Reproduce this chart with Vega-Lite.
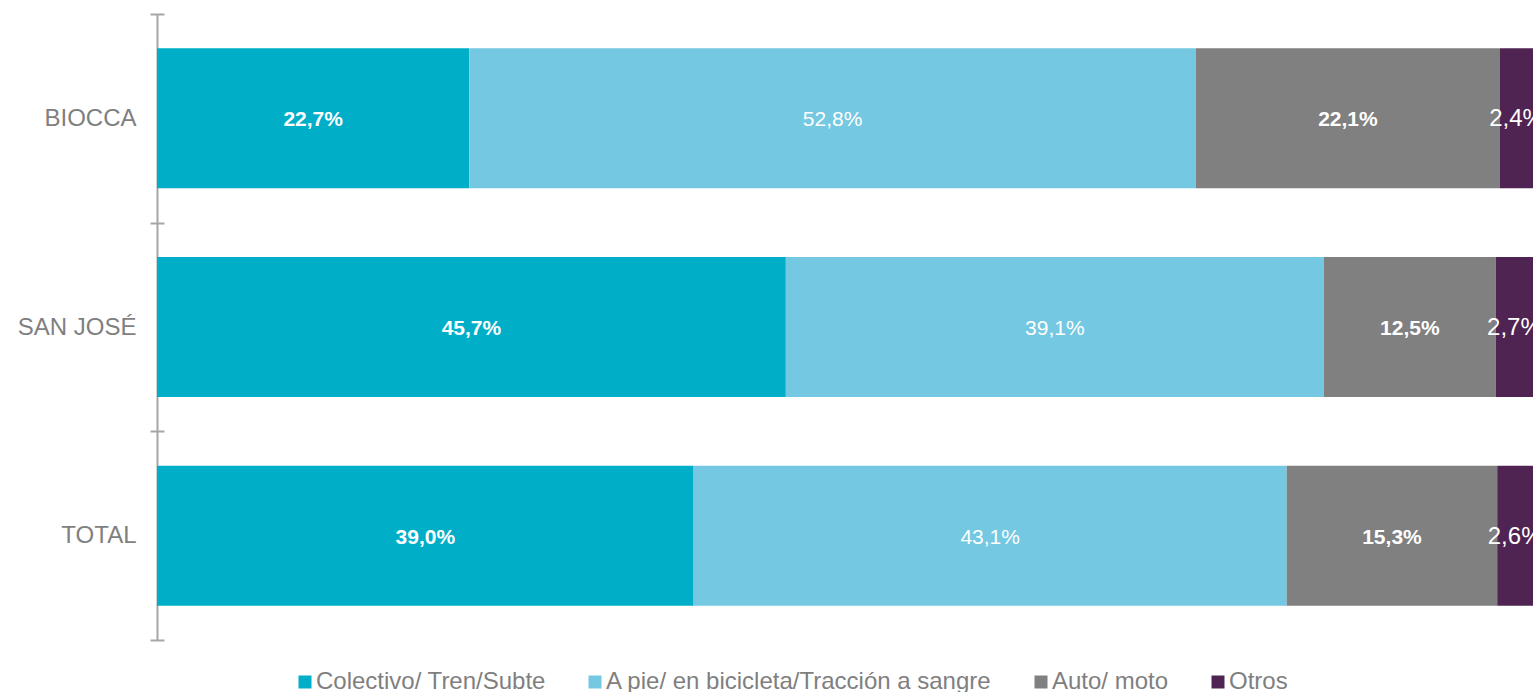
{
  "$schema": "https://vega.github.io/schema/vega-lite/v6.json",
  "width": 1376,
  "height": 626,
  "autosize": {"type": "none"},
  "padding": {"left": 157, "top": 14, "right": 1, "bottom": 52},
  "background": "white",
  "config": {
    "view": {"stroke": null},
    "font": "Liberation Sans",
    "locale": {"number": {"decimal": ",", "thousands": ".", "grouping": [3], "currency": ["", "€"]}}
  },
  "data": {"values": [
    {"lugar": "BIOCCA", "modo": "Colectivo/ Tren/Subte", "orden": 1, "valor": 0.227},
    {"lugar": "BIOCCA", "modo": "A pie/ en bicicleta/Tracción a sangre", "orden": 2, "valor": 0.528},
    {"lugar": "BIOCCA", "modo": "Auto/ moto", "orden": 3, "valor": 0.221},
    {"lugar": "BIOCCA", "modo": "Otros", "orden": 4, "valor": 0.024},
    {"lugar": "SAN JOSÉ", "modo": "Colectivo/ Tren/Subte", "orden": 1, "valor": 0.457},
    {"lugar": "SAN JOSÉ", "modo": "A pie/ en bicicleta/Tracción a sangre", "orden": 2, "valor": 0.391},
    {"lugar": "SAN JOSÉ", "modo": "Auto/ moto", "orden": 3, "valor": 0.125},
    {"lugar": "SAN JOSÉ", "modo": "Otros", "orden": 4, "valor": 0.027},
    {"lugar": "TOTAL", "modo": "Colectivo/ Tren/Subte", "orden": 1, "valor": 0.390},
    {"lugar": "TOTAL", "modo": "A pie/ en bicicleta/Tracción a sangre", "orden": 2, "valor": 0.431},
    {"lugar": "TOTAL", "modo": "Auto/ moto", "orden": 3, "valor": 0.153},
    {"lugar": "TOTAL", "modo": "Otros", "orden": 4, "valor": 0.026}
  ]},
  "transform": [
    {"stack": "valor", "groupby": ["lugar"], "sort": [{"field": "orden", "order": "ascending"}], "as": ["x0", "x1"]},
    {"calculate": "(datum.x0 + datum.x1) / 2", "as": "xm"}
  ],
  "resolve": {"axis": {"y": "independent"}},
  "layer": [
    {
      "mark": {"type": "bar", "height": {"band": 0.671}},
      "encoding": {
        "x": {"field": "x0", "type": "quantitative", "scale": {"domain": [0, 1]}, "axis": null},
        "x2": {"field": "x1"},
        "y": {
          "field": "lugar", "type": "nominal", "sort": null, "title": null,
          "scale": {"paddingInner": 0, "paddingOuter": 0},
          "axis": {
            "orient": "left", "tickBand": "extent", "tickSize": 7, "tickWidth": 2, "tickColor": "#A6A6A6",
            "domainColor": "#A6A6A6", "domainWidth": 2, "labelFontSize": 24, "labelColor": "#7F7F7F",
            "labelPadding": 14, "labelFont": "Liberation Sans"
          }
        },
        "color": {
          "field": "modo", "type": "nominal", "title": null,
          "scale": {
            "domain": ["Colectivo/ Tren/Subte", "A pie/ en bicicleta/Tracción a sangre", "Auto/ moto", "Otros"],
            "range": ["#00AEC7", "#74C8E2", "#808080", "#4F2452"]
          },
          "legend": {
            "orient": "none", "direction": "horizontal", "legendX": 136, "legendY": 656,
            "symbolType": "square", "symbolSize": 169, "symbolStrokeWidth": 0, "symbolOpacity": 1,
            "labelFontSize": 24, "labelColor": "#7F7F7F", "labelFont": "Liberation Sans",
            "labelOffset": -1, "columnPadding": 37, "labelLimit": 0
          }
        }
      }
    },
    {
      "transform": [{"filter": "datum.orden == 1 || datum.orden == 3"}],
      "mark": {"type": "text", "color": "white", "fontSize": 21, "fontWeight": "bold", "font": "Liberation Sans", "dy": 2},
      "encoding": {
        "x": {"field": "xm", "type": "quantitative", "scale": {"domain": [0, 1]}},
        "y": {
          "field": "lugar", "type": "nominal", "sort": null, "title": null,
          "scale": {"paddingInner": 0, "paddingOuter": 0},
          "axis": {
            "orient": "left", "tickBand": "extent", "tickSize": -7, "tickWidth": 2, "tickColor": "#A6A6A6",
            "domain": false, "labels": false
          }
        },
        "text": {"field": "valor", "type": "quantitative", "format": ".1%"}
      }
    },
    {
      "transform": [{"filter": "datum.orden == 2"}],
      "mark": {"type": "text", "color": "white", "fontSize": 21, "font": "Liberation Sans", "dy": 2},
      "encoding": {
        "x": {"field": "xm", "type": "quantitative", "scale": {"domain": [0, 1]}},
        "y": {"field": "lugar", "type": "nominal", "sort": null, "title": null, "axis": null},
        "text": {"field": "valor", "type": "quantitative", "format": ".1%"}
      }
    },
    {
      "transform": [{"filter": "datum.orden == 4"}],
      "mark": {"type": "text", "color": "white", "fontSize": 24, "font": "Liberation Sans", "dy": 1},
      "encoding": {
        "x": {"field": "xm", "type": "quantitative", "scale": {"domain": [0, 1]}},
        "y": {"field": "lugar", "type": "nominal", "sort": null, "title": null, "axis": null},
        "text": {"field": "valor", "type": "quantitative", "format": ".1%"}
      }
    }
  ]
}
